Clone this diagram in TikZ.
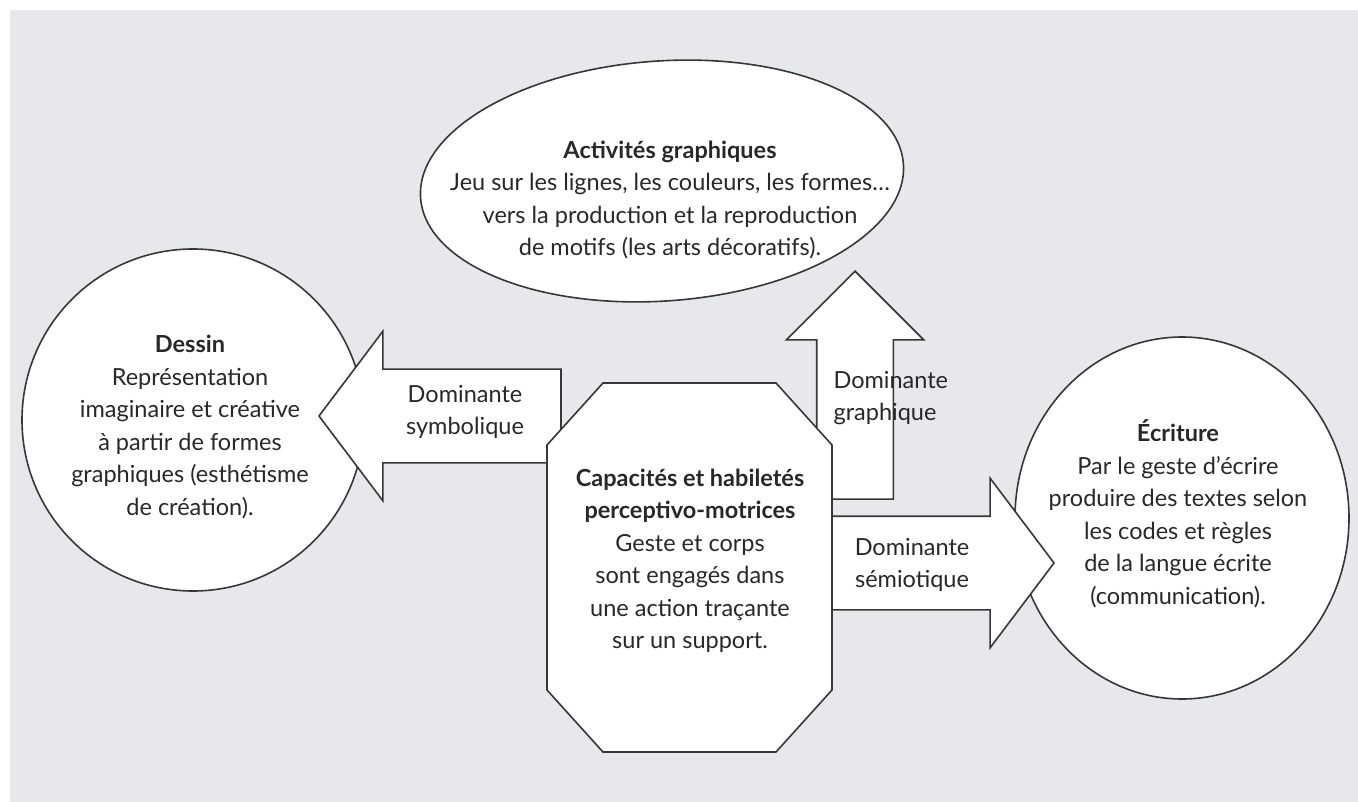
\documentclass[tikz,border=0pt]{standalone}
\usepackage{fontspec}
\setmainfont{Lato}
\usetikzlibrary{shapes.geometric,shapes.arrows}
\definecolor{papier}{RGB}{230,232,235}
\definecolor{trait}{RGB}{55,55,55}
\definecolor{encre}{RGB}{40,40,40}
\begin{document}
\begin{tikzpicture}[x=1pt,y=-1pt,align=center,
  bulle/.style={ellipse,draw=trait,line width=1.6pt,fill=white,inner sep=0pt},
  fleche/.style={single arrow,draw=trait,line width=1.6pt,fill=white,
    inner sep=46pt,single arrow head extend=38pt,single arrow tip angle=106},
  texte/.style={text=encre,font=\fontsize{23.5}{32.5}\selectfont}]
\useasboundingbox (0,0) rectangle (1358,802);
\fill[papier] (10,10) rectangle (1358,802);
\node[bulle,minimum width=342pt,minimum height=342pt] (dessin) at (193,420) {};
\node[bulle,minimum width=484pt,minimum height=240pt,rotate=4] (activ) at (662,181) {};
\node[bulle,minimum width=334pt,minimum height=362pt] (ecrit) at (1182,518) {};
\node[fleche,shape border rotate=180,minimum height=242pt,anchor=tip] (symb) at (318,416) {};
\node[fleche,shape border rotate=90,inner sep=37.5pt,single arrow head extend=30.5pt,
  single arrow tip angle=90,minimum height=228pt,anchor=tip] (graph) at (855,270) {};
\node[fleche,minimum height=255pt,anchor=tip] (semio) at (1055,563) {};
\draw[trait,line width=1.6pt,fill=white] (547,445) -- (603,383) -- (776,383) -- (832,445)
  -- (832,690) -- (776,752) -- (603,752) -- (547,690) -- cycle;
\node[texte] (dessin texte) at (190,427) {\textbf{Dessin}\\Représentation\\imaginaire et créative\\à partir de formes\\graphiques (esthétisme\\de création).};
\node[texte] (activ texte) at (670,200) {\textbf{Activités graphiques}\\Jeu sur les lignes, les couleurs, les formes…\\vers la production et la reproduction\\de motifs (les arts décoratifs).};
\node[texte] (ecrit texte) at (1178,514) {\textbf{Écriture}\\Par le geste d’écrire\\produire des textes selon\\les codes et règles\\de la langue écrite\\(communication).};
\node[texte] (capac) at (690,561) {\textbf{Capacités et habiletés}\\\textbf{perceptivo-motrices}\\Geste et corps\\sont engagés dans\\une action traçante\\sur un support.};
\node[texte] (symb texte) at (465,412) {Dominante\\symbolique};
\node[texte] (semio texte) at (912,565) {Dominante\\sémiotique};
\node[texte,align=left,anchor=west] (graph texte) at (830,398) {Dominante\\graphique};
\end{tikzpicture}
\end{document}
